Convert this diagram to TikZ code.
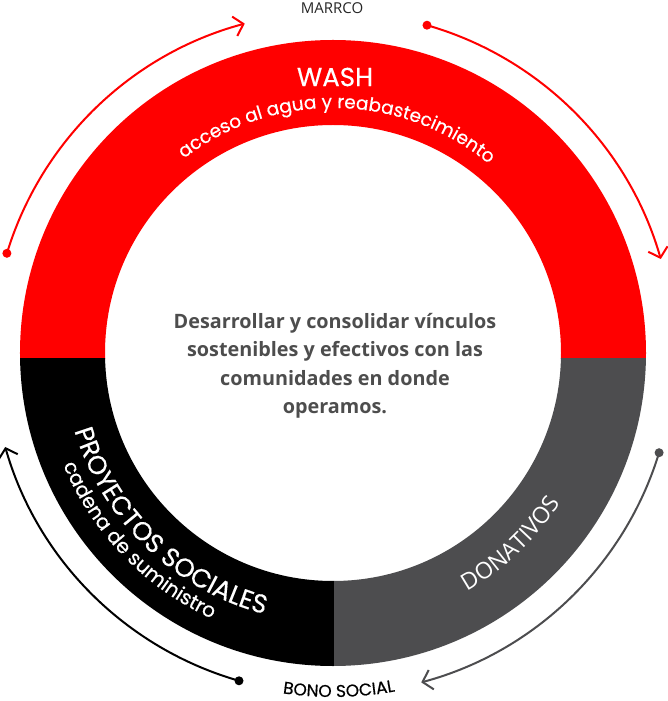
\documentclass[tikz,border=0pt]{standalone}
\usepackage{fontspec}
\setmainfont{Open Sans}
\newfontfamily\ringfont[FakeBold=0.4]{Poppins}
\usetikzlibrary{arrows.meta,decorations.text}
\definecolor{washred}{HTML}{FF0000}
\definecolor{donagrey}{HTML}{4D4D4F}
\definecolor{textgrey}{HTML}{4D4D4D}

\begin{document}
\begin{tikzpicture}[x=1pt, y=1pt,
  dot/.style={circle, inner sep=0pt, minimum size=9pt},
  flow/.style={line width=2pt, -{Straight Barb[length=9pt,width=20pt]}},
  curved/.style={decorate, decoration={text along path, text align=center, text color=white, text={#1}}}]
  \useasboundingbox (-333,-348) rectangle (335,353);
  % Define ring
  \begin{scope}
    \clip (-330,-6) rectangle (330,330);
    \fill[washred, even odd rule] (0,0) circle[radius=313] circle[radius=228];
  \end{scope}
  \begin{scope}
    \clip (-330,-6) rectangle (1,-330);
    \fill[black, even odd rule] (0,0) circle[radius=313] circle[radius=228];
  \end{scope}
  \begin{scope}
    \clip (1,-6) rectangle (330,-330);
    \fill[donagrey, even odd rule] (0,0) circle[radius=313] circle[radius=228];
  \end{scope}
  % Define labels
  \node[text=white, font=\ringfont\fontsize{26}{28}\selectfont] (wash) at (2,276) {WASH};
  \path[curved={|\ringfont\fontsize{18.5}{20}\selectfont|acceso al agua y reabastecimiento}]
    (178:245) arc[start angle=178, end angle=0, radius=245];
  \path[curved={|\ringfont\fontsize{26}{28}\selectfont|PROYECTOS SOCIALES}]
    (180:270) arc[start angle=180, end angle=272, radius=270];
  \path[curved={|\ringfont\fontsize{20}{22}\selectfont|cadena de suministro}]
    (180:292) arc[start angle=180, end angle=268, radius=292];
  \path[curved={|\fontsize{23}{25}\selectfont|DONATIVOS}]
    (-90:273) arc[start angle=-90, end angle=-4, radius=273];
  \node[text=textgrey, font=\bfseries\fontsize{19.8}{28.5}\selectfont, align=center] (goal) at (2,-13)
    {Desarrollar y consolidar vínculos\\ sostenibles y efectivos con las\\ comunidades en donde\\ operamos.};
  \node[text=black!85, font=\fontsize{15}{17}\selectfont] (marrco) at (-1,345) {MARRCO};
  \path[decorate, decoration={text along path, text align=center, text={|\ringfont\fontsize{17}{19}\selectfont|BONO SOCIAL}}]
    (-120:344) arc[start angle=-120, end angle=-58, radius=344];
  % Connect nodes
  \node[dot, fill=washred] (wash-l) at (163:341) {};
  \node[dot, fill=washred] (wash-r) at (74:341) {};
  \node[dot, fill=donagrey] (dona-r) at (-17:341) {};
  \node[dot, fill=black] (proy-l) at (254:341) {};
  \draw[flow, washred] (wash-l.center) arc[start angle=163, end angle=105, radius=341];
  \draw[flow, washred] (wash-r.center) arc[start angle=74, end angle=16, radius=341];
  \draw[flow, donagrey] (dona-r.center) arc[start angle=-17, end angle=-75, radius=341];
  \draw[flow, black] (proy-l.center) arc[start angle=254, end angle=196, radius=341];
\end{tikzpicture}
\end{document}
